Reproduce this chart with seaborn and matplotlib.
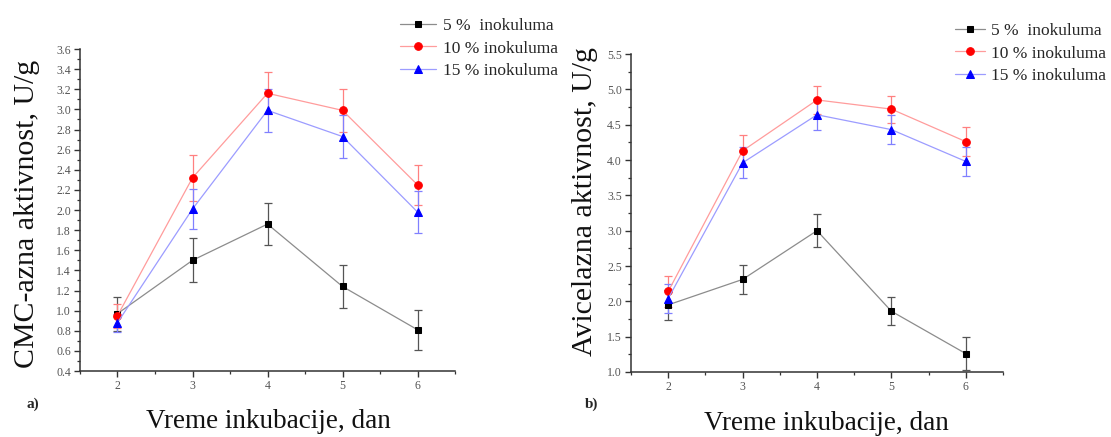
import matplotlib
matplotlib.use("Agg")
import matplotlib.pyplot as plt
import seaborn as sns
import numpy as np
from matplotlib.ticker import MultipleLocator, FormatStrFormatter

# ---------------- data ----------------
days = [2, 3, 4, 5, 6]
series_labels = ["5 %  inokuluma", "10 % inokuluma", "15 % inokuluma"]

cmc_5 = [0.97, 1.50, 1.86, 1.24, 0.81]
cmc_5_err = [0.17, 0.22, 0.21, 0.21, 0.20]
cmc_10 = [0.95, 2.32, 3.16, 2.99, 2.25]
cmc_10_err = [0.12, 0.23, 0.21, 0.21, 0.20]
cmc_15 = [0.88, 2.01, 2.99, 2.73, 1.98]
cmc_15_err = [0.09, 0.20, 0.21, 0.21, 0.21]

avi_5 = [1.95, 2.31, 3.00, 1.86, 1.26]
avi_5_err = [0.21, 0.21, 0.23, 0.20, 0.23]
avi_10 = [2.14, 4.13, 4.85, 4.72, 4.26]
avi_10_err = [0.22, 0.22, 0.20, 0.19, 0.21]
avi_15 = [2.04, 3.96, 4.64, 4.43, 3.98]
avi_15_err = [0.20, 0.22, 0.22, 0.20, 0.20]

xlabel = "Vreme inkubacije, dan"
ylabel_a = "CMC-azna aktivnost, U/g"
ylabel_b = "Avicelazna aktivnost, U/g"

# ---------------- style ----------------
sns.set_style("ticks")
plt.rcParams["font.family"] = ["Liberation Serif", "DejaVu Serif"]

styles = [
    dict(line="#8c8c8c", face="#000000", err="#555555", marker="s", ms=5.0),
    dict(line="#ff9c9c", face="#ff0000", err="#ff8080", marker="o", ms=5.5),
    dict(line="#9c9cff", face="#0000ff", err="#8080ff", marker="^", ms=6.0),
]

W, H = 1111, 437
fig = plt.figure(figsize=(W / 100, H / 100), dpi=100)


def px_axes(x0, x1, ytop, ybot):
    return fig.add_axes([x0 / W, 1 - ybot / H, (x1 - x0) / W, (ybot - ytop) / H])


ax_a = px_axes(80, 455, 49, 371)
ax_b = px_axes(631, 1003, 54, 372)


def draw(ax, sets, ylim, ymajor, yminor, yfmt):
    for (vals, errs), lab, st in zip(sets, series_labels, styles):
        ax.errorbar(days, vals, yerr=errs, fmt="none", ecolor=st["err"],
                    elinewidth=0.9, capsize=3, capthick=0.9, zorder=2)
        sns.lineplot(x=days, y=vals, ax=ax, color=st["line"], linewidth=0.9,
                     marker=st["marker"], markersize=st["ms"],
                     markerfacecolor=st["face"], markeredgecolor=st["face"],
                     label=lab, legend=False, zorder=3)
    ax.set_xlim(1.5, 6.5)
    ax.set_ylim(*ylim)
    ax.xaxis.set_major_locator(MultipleLocator(1))
    ax.xaxis.set_minor_locator(MultipleLocator(0.5))
    ax.yaxis.set_major_locator(MultipleLocator(ymajor))
    ax.yaxis.set_minor_locator(MultipleLocator(yminor))
    ax.yaxis.set_major_formatter(FormatStrFormatter(yfmt))
    ax.tick_params(which="major", length=4.5, width=1.0, labelsize=8.5,
                   labelcolor="#555555", color="#333333", pad=2)
    ax.tick_params(which="minor", length=2.5, width=0.9, color="#333333")
    sns.despine(ax=ax)
    for s in ("left", "bottom"):
        ax.spines[s].set_linewidth(1.1)
        ax.spines[s].set_color("#333333")
    ax.set_xlabel("")
    ax.set_ylabel("")


draw(ax_a, [(cmc_5, cmc_5_err), (cmc_10, cmc_10_err), (cmc_15, cmc_15_err)],
     (0.4, 3.6), 0.2, 0.1, "%.1f")
draw(ax_b, [(avi_5, avi_5_err), (avi_10, avi_10_err), (avi_15, avi_15_err)],
     (1.0, 5.5), 0.5, 0.25, "%.1f")

# y labels
ax_a.set_ylabel(ylabel_a, fontsize=21.5, color="#111111")
ax_a.yaxis.set_label_coords((40 - 80) / 375, (371 - 214) / 322)
ax_b.set_ylabel(ylabel_b, fontsize=21.5, color="#111111")
ax_b.yaxis.set_label_coords((598 - 631) / 372, (372 - 201) / 318)

# x labels
fig.text(268 / W, 1 - 421 / H, xlabel, fontsize=19.5, ha="center", va="center", color="#111111")
fig.text(826 / W, 1 - 423 / H, xlabel, fontsize=19.5, ha="center", va="center", color="#111111")

# panel letters
fig.text(33 / W, 1 - 404 / H, "a)", fontsize=11, fontweight="bold", ha="center", va="center")
fig.text(592 / W, 1 - 404 / H, "b)", fontsize=11, fontweight="bold", ha="center", va="center")

# legends
for ax, (lx, ly, hl) in ((ax_a, (400, 18, 2.1)), (ax_b, (955, 23, 1.7))):
    h, l = ax.get_legend_handles_labels()
    fig.legend(h, l, loc="upper left", bbox_to_anchor=(lx / W, 1 - ly / H),
               bbox_transform=fig.transFigure, frameon=False, fontsize=12.5,
               handlelength=hl, handletextpad=0.35, labelspacing=0.36,
               borderpad=0, borderaxespad=0)

fig.savefig("out.png", dpi=100)
